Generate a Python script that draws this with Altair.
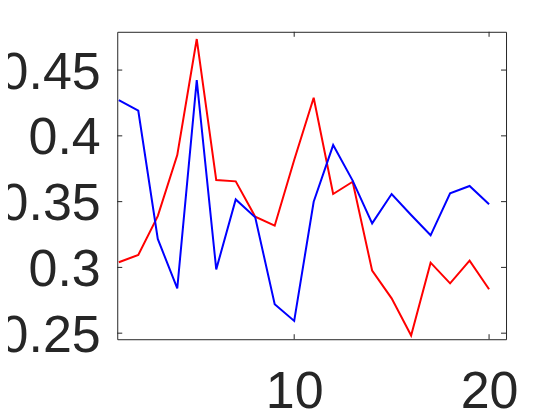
import altair as alt
import pandas as pd

x_vals = list(range(1, 21))
red = [0.3039, 0.3094, 0.3390, 0.3854, 0.4736, 0.3664, 0.3654, 0.3385, 0.3317, 0.3816,
       0.4290, 0.3558, 0.3651, 0.2975, 0.2765, 0.2482, 0.3036, 0.2879, 0.3051, 0.2834]
blue = [0.4272, 0.4191, 0.3216, 0.2841, 0.4424, 0.2985, 0.3517, 0.3381, 0.2720, 0.2593,
        0.3499, 0.3930, 0.3660, 0.3335, 0.3558, 0.3398, 0.3244, 0.3563, 0.3619, 0.3480]
x_ticks = [10, 20]
y_ticks = [0.25, 0.30, 0.35, 0.40, 0.45]
x_domain = [0.92, 20.87]
y_domain = [0.2454, 0.4791]

W, H = 389, 307.6
FONT = "Liberation Sans"
TXT = "#262626"
FS = 52

df = pd.DataFrame({
    "x": x_vals * 2,
    "y": red + blue,
    "s": ["red"] * len(red) + ["blue"] * len(blue),
})
xt = pd.DataFrame({"t": x_ticks})
yt = pd.DataFrame({"t": y_ticks})

xscale = alt.Scale(domain=x_domain, nice=False, zero=False)
yscale = alt.Scale(domain=y_domain, nice=False, zero=False)

lines = alt.Chart(df).mark_line(strokeWidth=2, clip=True).encode(
    x=alt.X("x:Q", scale=xscale,
            axis=alt.Axis(values=x_ticks, title=None, labelFontSize=FS, labelFont=FONT,
                          labelColor=TXT, domain=False, ticks=False, tickSize=0, grid=False,
                          labelPadding=27, labelFlush=False)),
    y=alt.Y("y:Q", scale=yscale,
            axis=alt.Axis(values=y_ticks, title=None, labelFontSize=FS, labelFont=FONT,
                          labelColor=TXT, domain=False, ticks=False, tickSize=0, grid=False,
                          labelPadding=17, labelOffset=2, format=".2~f", labelFlush=False)),
    color=alt.Color("s:N", scale=alt.Scale(domain=["red", "blue"], range=["#FF0000", "#0000FF"]),
                    legend=None),
    detail="s:N",
)

tk = dict(color=TXT, strokeWidth=1)
xb = alt.Chart(xt).mark_rule(**tk).encode(x=alt.X("t:Q", scale=xscale), y=alt.value(H), y2=alt.value(H - 5))
xtop = alt.Chart(xt).mark_rule(**tk).encode(x=alt.X("t:Q", scale=xscale), y=alt.value(0), y2=alt.value(5))
yl = alt.Chart(yt).mark_rule(**tk).encode(y=alt.Y("t:Q", scale=yscale), x=alt.value(0), x2=alt.value(5))
yr = alt.Chart(yt).mark_rule(**tk).encode(y=alt.Y("t:Q", scale=yscale), x=alt.value(W), x2=alt.value(W - 5))

chart = alt.layer(lines, xb, xtop, yl, yr).properties(
    width=W, height=H,
    autosize=alt.AutoSizeParams(type="none"),
    padding={"left": 109.3, "top": 23.7, "right": 46, "bottom": 73},
    background="white",
).configure_view(stroke=TXT, strokeWidth=1)

chart.save("out.html", embed_options={"renderer": "svg", "actions": False})
